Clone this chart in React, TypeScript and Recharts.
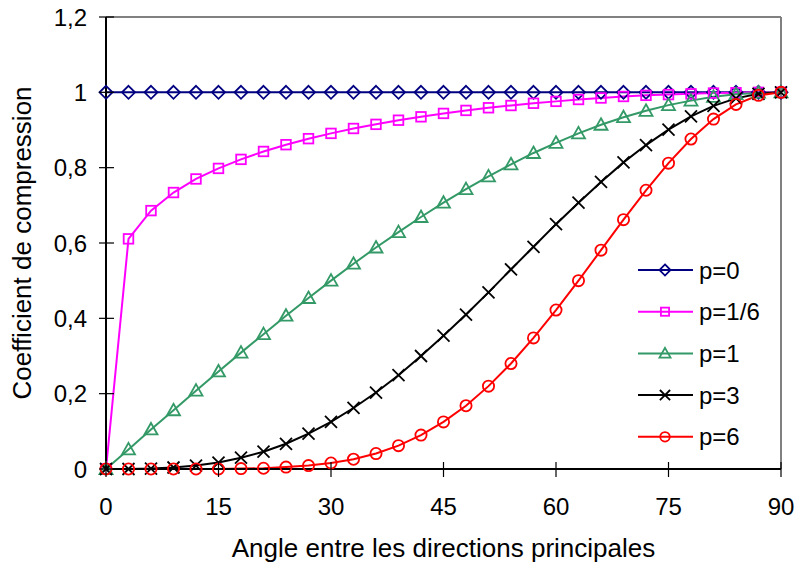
import React from 'react';
import { LineChart, Line, XAxis, YAxis, ReferenceLine, Legend, Label } from 'recharts';

const ANGLES = [0, 3, 6, 9, 12, 15, 18, 21, 24, 27, 30, 33, 36, 39, 42, 45, 48, 51, 54, 57, 60, 63, 66, 69, 72, 75, 78, 81, 84, 87, 90];
const P0 = [1, 1, 1, 1, 1, 1, 1, 1, 1, 1, 1, 1, 1, 1, 1, 1, 1, 1, 1, 1, 1, 1, 1, 1, 1, 1, 1, 1, 1, 1, 1];
const P_1_6 = [0, 0.611, 0.686, 0.734, 0.77, 0.798, 0.822, 0.843, 0.861, 0.877, 0.891, 0.904, 0.915, 0.926, 0.935, 0.944, 0.952, 0.959, 0.965, 0.971, 0.976, 0.981, 0.985, 0.989, 0.992, 0.994, 0.996, 0.998, 0.999, 1, 1];
const P1 = [0, 0.052, 0.105, 0.156, 0.208, 0.259, 0.309, 0.358, 0.407, 0.454, 0.5, 0.545, 0.588, 0.629, 0.669, 0.707, 0.743, 0.777, 0.809, 0.839, 0.866, 0.891, 0.914, 0.934, 0.951, 0.966, 0.978, 0.988, 0.995, 0.999, 1];
const P3 = [0, 0, 0.001, 0.004, 0.009, 0.017, 0.03, 0.046, 0.067, 0.094, 0.125, 0.162, 0.203, 0.249, 0.3, 0.354, 0.41, 0.469, 0.53, 0.59, 0.65, 0.707, 0.762, 0.814, 0.86, 0.901, 0.936, 0.964, 0.984, 0.996, 1];
const P6 = [0, 0, 0, 0, 0, 0, 0.001, 0.002, 0.005, 0.009, 0.016, 0.026, 0.041, 0.062, 0.09, 0.125, 0.168, 0.22, 0.28, 0.348, 0.422, 0.5, 0.581, 0.662, 0.74, 0.812, 0.876, 0.929, 0.968, 0.992, 1];

const X_TICKS = [0, 15, 30, 45, 60, 75, 90];
const Y_TICKS = [0, 0.2, 0.4, 0.6, 0.8, 1, 1.2];

const SERIES = [
  { key: 'p0', name: 'p=0', values: P0, color: '#000080', shape: 'diamond' },
  { key: 'p16', name: 'p=1/6', values: P_1_6, color: '#FF00FF', shape: 'square' },
  { key: 'p1', name: 'p=1', values: P1, color: '#339966', shape: 'triangle' },
  { key: 'p3', name: 'p=3', values: P3, color: '#000000', shape: 'cross' },
  { key: 'p6', name: 'p=6', values: P6, color: '#FF0000', shape: 'circle' },
];

const data = ANGLES.map((a, i) => {
  const row: Record<string, number> = { angle: a };
  SERIES.forEach((s) => {
    row[s.key] = s.values[i];
  });
  return row;
});

const FONT = '"Liberation Sans", Arial, sans-serif';
const PLOT_LEFT = 106;
const PLOT_BOTTOM = 469;

function marker(shape: string, color: string, cx: number, cy: number, k: string | number, s = 1) {
  const common = { fill: 'none', stroke: color, strokeWidth: 1.8 };
  if (shape === 'diamond') {
    const r = 6.5 * s;
    return <polygon key={k} points={`${cx},${cy - r} ${cx + r},${cy} ${cx},${cy + r} ${cx - r},${cy}`} {...common} />;
  }
  if (shape === 'square') {
    const r = 4.8 * s;
    return <rect key={k} x={cx - r} y={cy - r} width={2 * r} height={2 * r} {...common} />;
  }
  if (shape === 'triangle') {
    const w = 6.5 * s;
    return <polygon key={k} points={`${cx},${cy - 6.5 * s} ${cx + w},${cy + 5 * s} ${cx - w},${cy + 5 * s}`} {...common} />;
  }
  if (shape === 'cross') {
    const r = 6 * s;
    return (
      <g key={k} stroke={color} strokeWidth={1.8}>
        <line x1={cx - r} y1={cy - r} x2={cx + r} y2={cy + r} />
        <line x1={cx - r} y1={cy + r} x2={cx + r} y2={cy - r} />
      </g>
    );
  }
  return <circle key={k} cx={cx} cy={cy} r={5.6 * s} {...common} />;
}

const XTick = (props: any) => {
  const { x, payload } = props;
  return (
    <g>
      <line x1={x} x2={x} y1={PLOT_BOTTOM - 7} y2={PLOT_BOTTOM + 8} stroke="#000" strokeWidth={1.2} />
      <text x={x} y={515} textAnchor="middle" fontSize={24} fontFamily={FONT} fill="#000">
        {payload.value}
      </text>
    </g>
  );
};

const YTick = (props: any) => {
  const { y, payload } = props;
  return (
    <g>
      <line x1={PLOT_LEFT - 7} x2={PLOT_LEFT + 8} y1={y} y2={y} stroke="#000" strokeWidth={1.2} />
      <text x={87} y={y + 8.5} textAnchor="end" fontSize={24} fontFamily={FONT} fill="#000">
        {String(payload.value).replace('.', ',')}
      </text>
    </g>
  );
};

const LegendBox = () => (
  <svg width={160} height={200}>
    {SERIES.map((s, i) => {
      const y = 15 + i * 41.7;
      return (
        <g key={s.key}>
          <line x1={8} x2={63} y1={y} y2={y} stroke={s.color} strokeWidth={2} />
          {marker(s.shape, s.color, 35, y, 'm', 0.85)}
          <text x={69} y={y + 8.5} fontSize={24} fontFamily={FONT} fill="#000">
            {s.name}
          </text>
        </g>
      );
    })}
  </svg>
);

export default function App() {
  return (
    <div style={{ position: 'absolute', left: 0, top: 0, background: '#fff' }}>
      <LineChart width={796} height={565} data={data} margin={{ top: 17, right: 15, left: 0, bottom: 0 }}>
        <XAxis
          dataKey="angle"
          type="number"
          domain={[0, 90]}
          ticks={X_TICKS}
          height={96}
          tick={<XTick />}
          tickLine={false}
          axisLine={{ stroke: '#000', strokeWidth: 2 }}
        >
          <Label
            content={(p: any) => (
              <text
                x={p.viewBox.x + p.viewBox.width / 2}
                y={p.viewBox.y + 88}
                textAnchor="middle"
                fontSize={26}
                fontFamily={FONT}
                fill="#000"
              >
                Angle entre les directions principales
              </text>
            )}
          />
        </XAxis>
        <YAxis
          type="number"
          domain={[0, 1.2]}
          ticks={Y_TICKS}
          width={106}
          tick={<YTick />}
          tickLine={false}
          axisLine={{ stroke: '#000', strokeWidth: 2 }}
        >
          <Label
            content={(p: any) => {
              const cy = p.viewBox.y + p.viewBox.height / 2;
              return (
                <text
                  x={31}
                  y={cy}
                  transform={`rotate(-90, 31, ${cy})`}
                  textAnchor="middle"
                  fontSize={26}
                  fontFamily={FONT}
                  fill="#000"
                >
                  Coefficient de compression
                </text>
              );
            }}
          />
        </YAxis>
        <ReferenceLine y={1.2} stroke="#808080" strokeWidth={2} />
        <ReferenceLine x={90} stroke="#808080" strokeWidth={2} />
        {SERIES.map((s) => (
          <Line
            key={s.key}
            dataKey={s.key}
            name={s.name}
            type="linear"
            stroke={s.color}
            strokeWidth={2}
            isAnimationActive={false}
            dot={(p: any) => marker(s.shape, s.color, p.cx, p.cy, p.index)}
            activeDot={false}
          />
        ))}
        <Legend
          layout="vertical"
          align="center"
          verticalAlign="middle"
          content={<LegendBox />}
          wrapperStyle={{ left: 630, top: 255, width: 160 }}
        />
      </LineChart>
    </div>
  );
}
